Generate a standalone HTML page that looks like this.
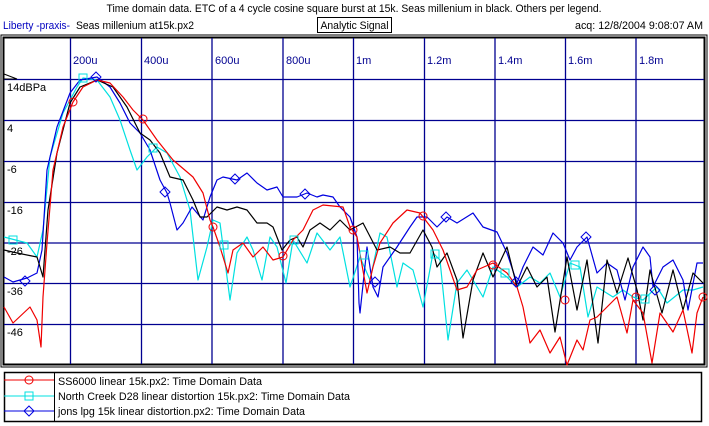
<!DOCTYPE html>
<html><head><style>
html,body{margin:0;padding:0;background:#fff;}
svg{display:block;font-family:"Liberation Sans",Arial,sans-serif;}
</style></head><body>
<svg width="709" height="426" viewBox="0 0 709 426" xmlns="http://www.w3.org/2000/svg">
<rect width="709" height="426" fill="#fff"/>
<text x="354" y="12" font-size="11" text-anchor="middle" textLength="495" lengthAdjust="spacingAndGlyphs">Time domain data. ETC of a 4 cycle cosine square burst at 15k. Seas millenium in black. Others per legend.</text>
<text x="3" y="29" font-size="11" fill="#0000c0" textLength="67" lengthAdjust="spacingAndGlyphs">Liberty -praxis-</text>
<text x="76" y="29" font-size="11" textLength="118" lengthAdjust="spacingAndGlyphs">Seas millenium at15k.px2</text>
<rect x="317.5" y="17.5" width="74" height="15" fill="none" stroke="#000"/>
<text x="354.5" y="29" font-size="11" text-anchor="middle" textLength="68" lengthAdjust="spacingAndGlyphs">Analytic Signal</text>
<text x="575" y="29" font-size="11" textLength="128" lengthAdjust="spacingAndGlyphs">acq: 12/8/2004 9:08:07 AM</text>
<rect x="1" y="35" width="706" height="332" fill="none" stroke="#000" stroke-width="1"/>
<rect x="3.5" y="37.5" width="701" height="327" fill="none" stroke="#000" stroke-width="2"/>
<g stroke="#000090" stroke-width="1.3">
<line x1="70.5" y1="38" x2="70.5" y2="364"/><line x1="141.5" y1="38" x2="141.5" y2="364"/>
<line x1="212" y1="38" x2="212" y2="364"/><line x1="283" y1="38" x2="283" y2="364"/>
<line x1="353.5" y1="38" x2="353.5" y2="364"/><line x1="424.5" y1="38" x2="424.5" y2="364"/>
<line x1="495" y1="38" x2="495" y2="364"/><line x1="565.5" y1="38" x2="565.5" y2="364"/>
<line x1="636" y1="38" x2="636" y2="364"/>
<line x1="4" y1="79.5" x2="704" y2="79.5"/><line x1="4" y1="120.5" x2="704" y2="120.5"/>
<line x1="4" y1="161.5" x2="704" y2="161.5"/><line x1="4" y1="202.5" x2="704" y2="202.5"/>
<line x1="4" y1="243" x2="704" y2="243"/><line x1="4" y1="283.5" x2="704" y2="283.5"/>
<line x1="4" y1="324.5" x2="704" y2="324.5"/>
</g>
<g font-size="11" fill="#000090">
<text x="73" y="64">200u</text><text x="144" y="64">400u</text><text x="215" y="64">600u</text><text x="286" y="64">800u</text>
<text x="356" y="64">1m</text><text x="427" y="64">1.2m</text><text x="498" y="64">1.4m</text><text x="568" y="64">1.6m</text><text x="639" y="64">1.8m</text>
</g>
<g font-size="11" fill="#000">
<text x="7" y="91">14dBPa</text><text x="7" y="132">4</text><text x="7" y="173">-6</text><text x="7" y="214">-16</text>
<text x="7" y="255">-26</text><text x="7" y="295">-36</text><text x="7" y="336">-46</text>
</g>
<path d="M4 74 L17 79 L4 79 Z" fill="none" stroke="#000"/>
<g fill="none" stroke-width="1.2" stroke-linejoin="round">
<polyline stroke="#00e0e0" points="4,237 27,243 37,257 43,230 50,157 63,113 77,87 83,78 97,80 110,97 120,120 130,150 137,170 147,157 157,147 167,153 180,177 190,210 198,280 207,247 213,220 220,223 230,300 237,253 247,237 253,250 262,280 270,237 277,247 286,283 293,240 307,263 317,233 330,250 340,237 350,287 360,257 370,280 380,233 387,237 397,287 403,263 413,270 423,307 433,253 440,260 448,340 457,283 467,270 473,280 483,297 493,267 507,277 517,287 530,277 540,283 550,273 560,297 570,263 580,267 588,317 597,287 613,297 623,290 633,297 643,300 657,287 667,303 683,290 693,290 703,287"/>
<polyline stroke="#0000e0" points="4,277 13,282 27,278 37,273 42,250 47,170 57,127 70,93 80,80 97,77 110,87 120,103 130,123 140,133 150,150 160,180 167,193 170,203 177,230 183,223 192,207 197,213 203,220 210,197 217,180 223,177 237,180 247,173 257,183 267,190 277,187 283,197 297,197 307,193 317,197 323,195 333,197 340,207 350,217 357,237 359,303 360,313 367,247 373,287 378,297 383,267 397,247 410,227 417,217 427,217 437,227 447,217 457,223 473,213 483,227 497,232 507,253 517,283 523,267 533,247 543,255 553,233 563,243 570,260 577,247 587,237 597,273 607,263 617,270 625,300 633,267 643,247 650,257 653,287 663,267 673,260 683,280 688,310 697,263 703,263"/>
<polyline stroke="#000" points="4,250 17,253 37,257 43,277 48,210 57,153 70,103 80,87 97,80 113,87 127,107 140,133 150,140 160,153 170,177 183,180 193,200 200,217 207,217 217,207 227,210 237,207 247,210 257,223 267,223 273,227 282,250 290,240 297,237 303,247 310,230 320,223 330,230 340,220 350,230 363,223 377,250 390,247 400,253 410,253 423,230 432,247 437,267 447,253 457,280 463,338 473,280 483,253 493,277 507,247 517,287 527,267 537,287 547,277 555,332 567,257 577,310 587,260 598,343 607,260 617,293 628,258 637,290 643,320 650,270 662,313 673,270 683,310 693,273 703,283"/>
<polyline stroke="#f00000" points="4,307 13,323 30,307 37,320 41,347 43,297 47,243 53,170 63,127 73,102 83,87 97,80 110,83 123,97 133,110 143,120 157,140 173,160 193,177 203,193 210,220 213,227 220,247 228,273 233,250 243,243 253,257 263,247 273,260 283,257 293,240 303,230 313,210 323,205 343,207 350,227 357,237 367,293 373,267 380,243 393,223 407,210 420,213 433,230 443,250 457,290 467,287 477,270 493,263 507,273 517,287 523,307 530,343 540,330 550,353 560,337 567,365 577,340 583,350 590,320 597,317 607,307 617,297 627,333 633,300 643,313 652,363 660,313 673,332 683,310 692,353 697,313 703,297"/>
</g>
<g fill="none" stroke="#f00000" stroke-width="1">
<circle cx="73" cy="102" r="4"/><circle cx="143" cy="119" r="4"/><circle cx="213" cy="227" r="4"/><circle cx="283" cy="256" r="4"/><circle cx="353" cy="230" r="4"/><circle cx="423" cy="216" r="4"/><circle cx="493" cy="265" r="4"/><circle cx="565" cy="300" r="4"/><circle cx="636" cy="297" r="4"/><circle cx="703" cy="297" r="4"/>
</g>
<g fill="none" stroke="#00e0e0" stroke-width="1">
<rect x="9" y="236" width="8" height="8"/><rect x="79" y="74" width="8" height="8"/><rect x="149" y="144" width="8" height="8"/><rect x="220" y="241" width="8" height="8"/><rect x="290" y="236" width="8" height="8"/><rect x="360" y="251" width="8" height="8"/><rect x="431" y="250" width="8" height="8"/><rect x="501" y="269" width="8" height="8"/><rect x="571" y="261" width="8" height="8"/><rect x="641" y="295" width="8" height="8"/>
</g>
<g fill="none" stroke="#0000e0" stroke-width="1">
<path d="M25 276 l5 5 l-5 5 l-5 -5 Z"/><path d="M96 72 l5 5 l-5 5 l-5 -5 Z"/><path d="M165 187 l5 5 l-5 5 l-5 -5 Z"/><path d="M235 174 l5 5 l-5 5 l-5 -5 Z"/><path d="M305 189 l5 5 l-5 5 l-5 -5 Z"/><path d="M375 277 l5 5 l-5 5 l-5 -5 Z"/><path d="M446 212 l5 5 l-5 5 l-5 -5 Z"/><path d="M516 277 l5 5 l-5 5 l-5 -5 Z"/><path d="M586 232 l5 5 l-5 5 l-5 -5 Z"/><path d="M655 285 l5 5 l-5 5 l-5 -5 Z"/>
</g>
<rect x="4.5" y="372.5" width="697" height="49" fill="none" stroke="#000" stroke-width="1.5"/>
<line x1="54.5" y1="372" x2="54.5" y2="422" stroke="#000"/>
<line x1="4" y1="380" x2="54" y2="380" stroke="#f00000"/><circle cx="29" cy="380" r="4" fill="none" stroke="#f00000"/>
<line x1="4" y1="396" x2="54" y2="396" stroke="#00e0e0"/><rect x="25" y="392" width="8" height="8" fill="none" stroke="#00e0e0"/>
<line x1="4" y1="411" x2="54" y2="411" stroke="#0000e0"/><path d="M29 406 l5 5 l-5 5 l-5 -5 Z" fill="none" stroke="#0000e0"/>
<g font-size="11"><text x="58" y="385" textLength="204" lengthAdjust="spacingAndGlyphs">SS6000 linear 15k.px2:  Time Domain Data</text>
<text x="58" y="400" textLength="292" lengthAdjust="spacingAndGlyphs">North Creek D28 linear distortion 15k.px2:  Time Domain Data</text>
<text x="58" y="415" textLength="247" lengthAdjust="spacingAndGlyphs">jons lpg 15k linear distortion.px2:  Time Domain Data</text></g>
</svg>
</body></html>
